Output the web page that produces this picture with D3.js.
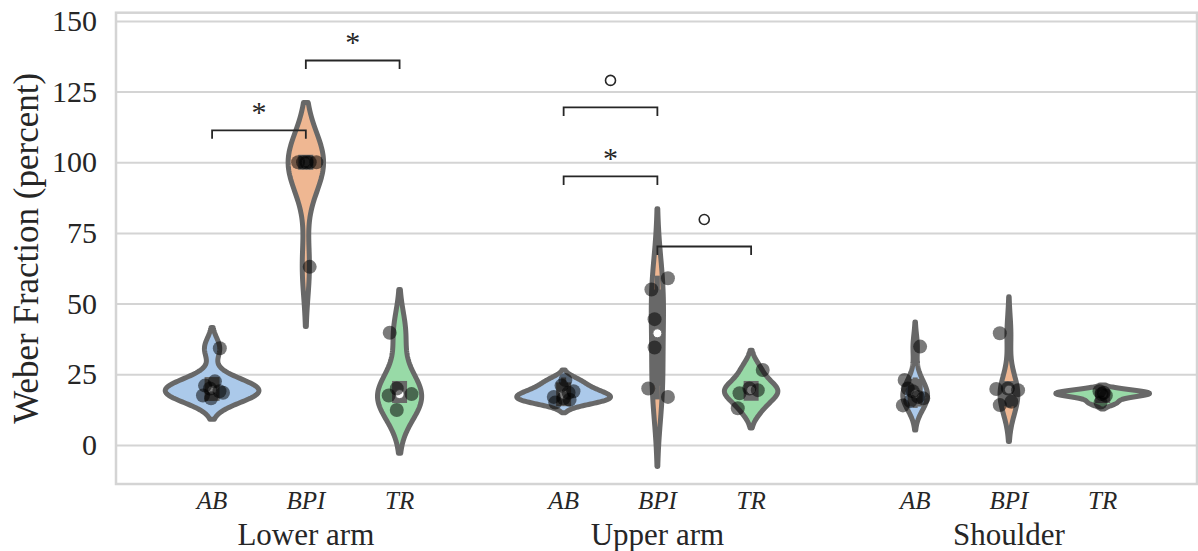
<!DOCTYPE html>
<html>
<head>
<meta charset="utf-8">
<script src="https://cdn.jsdelivr.net/npm/d3@7"></script>
<style>
  html, body { margin: 0; padding: 0; background: #ffffff; }
  svg { display: block; }
</style>
</head>
<body>
<svg id="chart" width="1198" height="551"></svg>
<script>
// Body regions (major x groups) and participant groups (nested levels)
const regions = ["Lower arm", "Upper arm", "Shoulder"];
const subjectGroups = ["AB", "BPI", "TR"];
const yTicks = [0, 25, 50, 75, 100, 125, 150];

// Weber fraction (percent) per participant
const lowerAB     = [34.2, 22.5, 21, 20, 19, 18.5, 17.5, 16.5];
const lowerBPI    = [100, 100, 100, 100, 100, 63];
const lowerTR     = [39.7, 20, 18, 17.5, 12.4];
const upperAB     = [23, 21, 19, 18.5, 17, 16.5, 16, 15];
const upperBPI    = [59, 55, 44.5, 34.5, 20, 17];
const upperTR     = [26.5, 20, 19.4, 18.3, 13];
const shoulderAB  = [34.8, 23, 20, 19, 17, 16.5, 15.5, 14];
const shoulderBPI = [39.5, 20, 19.8, 19.4, 15.3, 14.1];
const shoulderTR  = [19, 18.5, 18, 17.5, 15];

// Strip-plot jitter of each participant, in category units
const lowerABJitter     = [0.022, 0.008, -0.020, -0.006, 0.021, 0.031, -0.026, -0.003];
const lowerBPIJitter    = [-0.022, -0.008, 0.002, 0.011, 0.030, 0.011];
const lowerTRJitter     = [-0.028, -0.008, 0.034, -0.031, -0.008];
const upperABJitter     = [0.005, -0.006, 0.028, 0.014, -0.028, 0.000, 0.017, -0.024];
const upperBPIJitter    = [0.030, -0.017, -0.008, -0.008, -0.026, 0.030];
const upperTRJitter     = [0.033, -0.005, 0.019, -0.033, -0.038];
const shoulderABJitter  = [0.014, -0.030, -0.021, -0.007, 0.008, 0.023, -0.014, -0.035];
const shoulderBPIJitter = [-0.026, -0.003, -0.036, 0.026, 0.007, -0.026];
const shoulderTRJitter  = [-0.009, 0.003, -0.003, 0.009, -0.006];

// Pairwise comparisons: "*" significant, "o" marginal
const comparisons = [
  { region: "Lower arm", from: "AB",  to: "BPI", level: 111.3, mark: "*" },
  { region: "Lower arm", from: "BPI", to: "TR",  level: 136.0, mark: "*" },
  { region: "Upper arm", from: "AB",  to: "BPI", level: 119.4, mark: "o" },
  { region: "Upper arm", from: "AB",  to: "BPI", level: 95.0,  mark: "*" },
  { region: "Upper arm", from: "BPI", to: "TR",  level: 70.2,  mark: "o" }
];

const series = [
  { region: "Lower arm", group: "AB",  values: lowerAB,     jitter: lowerABJitter },
  { region: "Lower arm", group: "BPI", values: lowerBPI,    jitter: lowerBPIJitter },
  { region: "Lower arm", group: "TR",  values: lowerTR,     jitter: lowerTRJitter },
  { region: "Upper arm", group: "AB",  values: upperAB,     jitter: upperABJitter },
  { region: "Upper arm", group: "BPI", values: upperBPI,    jitter: upperBPIJitter },
  { region: "Upper arm", group: "TR",  values: upperTR,     jitter: upperTRJitter },
  { region: "Shoulder",  group: "AB",  values: shoulderAB,  jitter: shoulderABJitter },
  { region: "Shoulder",  group: "BPI", values: shoulderBPI, jitter: shoulderBPIJitter },
  { region: "Shoulder",  group: "TR",  values: shoulderTR,  jitter: shoulderTRJitter }
];

const fills = { AB: "#abc9ea", BPI: "#efb792", TR: "#98daa7" };
const outline = "#686868";
const textColor = "#262626";
const gridColor = "#d4d4d4";
const lw = 5;

const svg = d3.select("#chart");
const plot = { left: 116, right: 1197, top: 12.7, bottom: 484 };

// Category axis: -0.5..2.5 spans the three regions, with a little margin
const xLin = d3.scaleLinear().domain([-0.54, 2.535]).range([plot.left, plot.right]);
const regionScale = d3.scaleBand().domain(regions).range([xLin(-0.5), xLin(2.5)]);
const bw = regionScale.bandwidth();
const groupScale = d3.scaleBand().domain(subjectGroups).range([-0.4 * bw, 0.4 * bw]);
const halfMax = groupScale.bandwidth() / 2;
const xCenter = (region, group) => regionScale(region) + bw / 2 + groupScale(group) + groupScale.bandwidth() / 2;

const y = d3.scaleLinear().domain([-13.8, 152.9]).range([plot.bottom, plot.top]);

// Horizontal gridlines
svg.append("g")
  .attr("transform", `translate(${plot.left},0)`)
  .call(d3.axisLeft(y).tickValues(yTicks).tickSize(-(plot.right - plot.left)).tickFormat(""))
  .call(g => g.select(".domain").remove())
  .call(g => g.selectAll("line").attr("stroke", gridColor).attr("stroke-width", 2));

// Frame
svg.append("rect")
  .attr("x", plot.left).attr("y", plot.top)
  .attr("width", plot.right - plot.left).attr("height", plot.bottom - plot.top)
  .attr("fill", "none").attr("stroke", gridColor).attr("stroke-width", 2.5);

// Y tick labels
svg.append("g")
  .attr("transform", `translate(${plot.left},0)`)
  .call(d3.axisLeft(y).tickValues(yTicks).tickSize(0).tickPadding(19))
  .call(g => g.select(".domain").remove())
  .call(g => g.selectAll("text")
    .attr("font-family", "'Liberation Serif', 'Times New Roman', serif")
    .attr("font-size", 30)
    .attr("fill", textColor));

// Y axis title
svg.append("text")
  .attr("transform", `translate(38,${(plot.top + plot.bottom) / 2}) rotate(-90)`)
  .attr("text-anchor", "middle")
  .attr("font-family", "'Liberation Serif', 'Times New Roman', serif")
  .attr("font-size", 35)
  .attr("fill", textColor)
  .text("Weber Fraction (percent)");

// Group tick labels and region labels
series.forEach(s => {
  svg.append("text")
    .attr("x", xCenter(s.region, s.group))
    .attr("y", 508.5)
    .attr("text-anchor", "middle")
    .attr("font-family", "'Liberation Serif', 'Times New Roman', serif")
    .attr("font-style", "italic")
    .attr("font-size", 25)
    .attr("fill", textColor)
    .text(s.group);
});
regions.forEach(r => {
  svg.append("text")
    .attr("x", regionScale(r) + bw / 2)
    .attr("y", 544.5)
    .attr("text-anchor", "middle")
    .attr("font-family", "'Liberation Serif', 'Times New Roman', serif")
    .attr("font-size", 31)
    .attr("fill", textColor)
    .text(r);
});

// Gaussian KDE (Scott bandwidth), evaluated on 100 points, support cut at 2 bandwidths
function kde(values) {
  const n = values.length;
  const h = d3.deviation(values) * Math.pow(n, -0.2);
  const lo = d3.min(values) - 2 * h, hi = d3.max(values) + 2 * h;
  const norm = 1 / (h * Math.sqrt(2 * Math.PI));
  return d3.range(100).map(i => {
    const v = lo + (hi - lo) * i / 99;
    const d = d3.mean(values, x => Math.exp(-0.5 * ((v - x) / h) ** 2)) * norm;
    return { v, d };
  });
}

series.forEach(s => { s.profile = kde(s.values); s.peak = d3.max(s.profile, p => p.d); });
// Widths scaled within each region
const regionPeak = d3.rollup(series, v => d3.max(v, s => s.peak), s => s.region);

const violins = svg.append("g");
series.forEach(s => {
  const cx = xCenter(s.region, s.group);
  const k = halfMax / regionPeak.get(s.region);
  const area = d3.area()
    .y(p => y(p.v))
    .x0(p => cx - p.d * k)
    .x1(p => cx + p.d * k);
  violins.append("path")
    .datum(s.profile)
    .attr("d", area)
    .attr("fill", fills[s.group])
    .attr("stroke", outline)
    .attr("stroke-width", lw)
    .attr("stroke-linejoin", "round");

  // Inner box: whiskers, interquartile bar, median
  const sorted = s.values.slice().sort(d3.ascending);
  const q1 = d3.quantileSorted(sorted, 0.25);
  const q2 = d3.quantileSorted(sorted, 0.5);
  const q3 = d3.quantileSorted(sorted, 0.75);
  const lim = 1.5 * (q3 - q1);
  const lowW = d3.min(sorted.filter(v => v >= q1 - lim));
  const highW = d3.max(sorted.filter(v => v <= q3 + lim));
  violins.append("line")
    .attr("x1", cx).attr("x2", cx)
    .attr("y1", y(lowW)).attr("y2", y(highW))
    .attr("stroke", outline).attr("stroke-width", lw).attr("stroke-linecap", "square");
  violins.append("line")
    .attr("x1", cx).attr("x2", cx)
    .attr("y1", y(q1)).attr("y2", y(q3))
    .attr("stroke", outline).attr("stroke-width", lw * 3).attr("stroke-linecap", "square");
  violins.append("circle")
    .attr("cx", cx).attr("cy", y(q2)).attr("r", 4.5)
    .attr("fill", "#ffffff").attr("stroke", outline).attr("stroke-width", 1);
});

// Individual participants
const dots = svg.append("g");
series.forEach(s => {
  const cx = xCenter(s.region, s.group);
  s.values.forEach((v, i) => {
    dots.append("circle")
      .attr("cx", cx + s.jitter[i] * bw)
      .attr("cy", y(v))
      .attr("r", 7)
      .attr("fill", "#000000")
      .attr("fill-opacity", 0.52);
  });
});

// Comparison brackets
const brackets = svg.append("g");
const drop = 3;
comparisons.forEach(c => {
  const x1 = xCenter(c.region, c.from), x2 = xCenter(c.region, c.to);
  brackets.append("path")
    .attr("d", `M${x1},${y(c.level - drop)}V${y(c.level)}H${x2}V${y(c.level - drop)}`)
    .attr("fill", "none")
    .attr("stroke", "#262626")
    .attr("stroke-width", 1.8);
  const mx = (x1 + x2) / 2;
  if (c.mark === "*") {
    brackets.append("text")
      .attr("x", mx)
      .attr("y", y(c.level) - 8)
      .attr("text-anchor", "middle")
      .attr("font-family", "'Liberation Serif', 'Times New Roman', serif")
      .attr("font-size", 30)
      .attr("fill", textColor)
      .text("*");
  } else {
    brackets.append("circle")
      .attr("cx", mx)
      .attr("cy", y(c.level) - 27)
      .attr("r", 5)
      .attr("fill", "#ffffff")
      .attr("stroke", textColor)
      .attr("stroke-width", 1.6);
  }
});
</script>
</body>
</html>
